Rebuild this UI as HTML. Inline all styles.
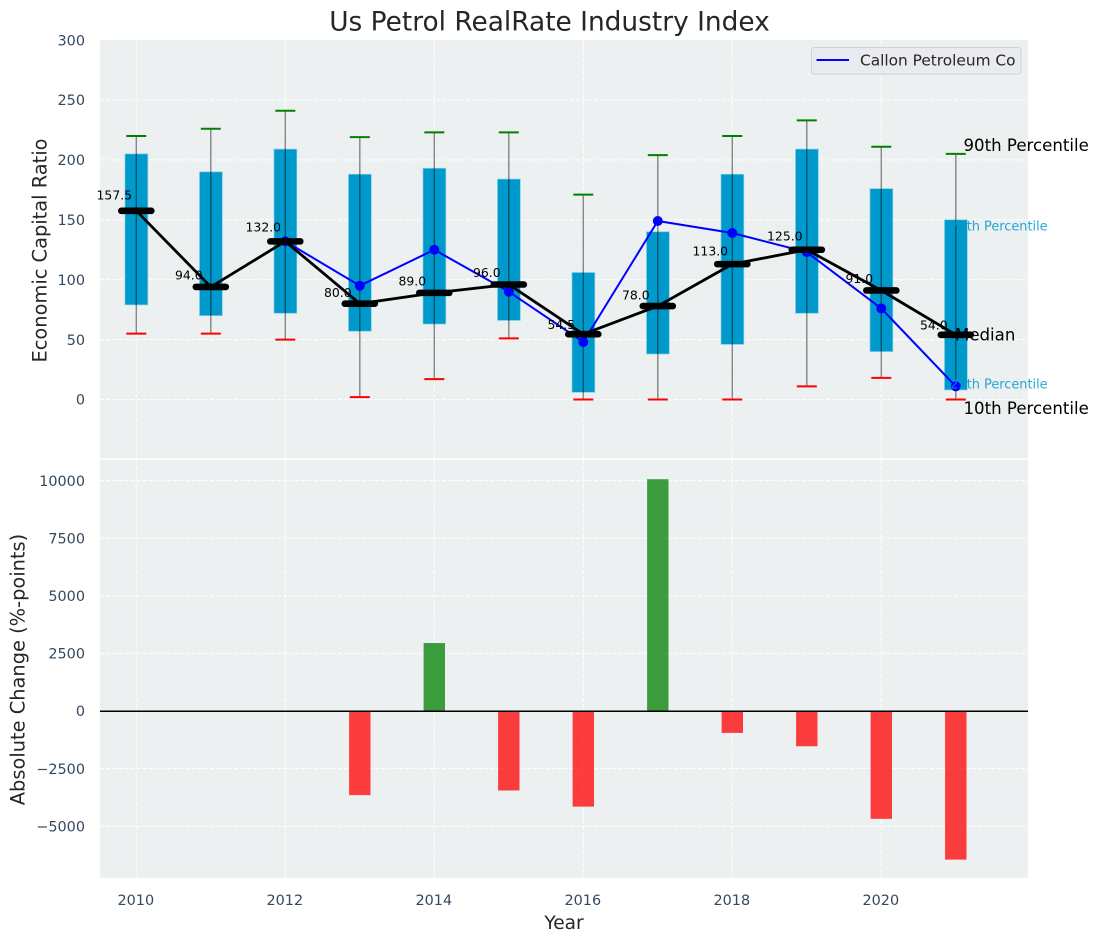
<!DOCTYPE html>
<html>
<head>
<meta charset="utf-8">
<title>Us Petrol RealRate Industry Index</title>
<style>
html,body{margin:0;padding:0;background:#fff;}
svg{display:block;font-family:"DejaVu Sans","Liberation Sans",sans-serif;}
</style>
</head>
<body>
<svg id="chart" xmlns="http://www.w3.org/2000/svg" width="1098" height="942" viewBox="0 0 1098 942"></svg>
<script>
const years = [2010,2011,2012,2013,2014,2015,2016,2017,2018,2019,2020,2021];
const p90 = [220,226,241,219,223,223,171,204,220,233,211,205];
const p75 = [205,190,209,188,193,184,106,140,188,209,176,150];
const medians = [157.5,94,132,80,89,96,54.5,78,113,125,91,54];
const p25 = [79,70,72,57,63,66,6,38,46,72,40,8];
const p10 = [55,55,50,2,17,51,0,0,0,11,18,0];
const callon = [null,null,132,95,125,90,48,149,139,123,76,11];
const changes = [null,null,null,-3650,2950,-3450,-4150,10060,-950,-1530,-4680,-6450];
const topTicks = [0,50,100,150,200,250,300];
const bottomTicks = [-5000,-2500,0,2500,5000,7500,10000];
const xTicks = [2010,2012,2014,2016,2018,2020];

const svg = document.getElementById('chart');
const NS = 'http://www.w3.org/2000/svg';
const plotLeft = 100, plotRight = 1028;
const topAxisTop = 40, topAxisBottom = 458.4, botAxisTop = 460, botAxisBottom = 878;

function x(year){ return 136.3 + (year - 2010) * 74.5; }
function yTop(v){ return 399.5 - v * 1.198; }
function yBot(v){ return 711 - v * 0.02304; }

function make(tag, attrs, txt){
  const el = document.createElementNS(NS, tag);
  for (const k in attrs) el.setAttribute(k, attrs[k]);
  if (txt !== undefined) el.textContent = txt;
  svg.appendChild(el);
  return el;
}
function fmtTick(v){ return v < 0 ? '\u2212' + Math.abs(v) : String(v); }

// axes backgrounds
let el = make('rect',{x:plotLeft,y:topAxisTop,width:plotRight-plotLeft,height:topAxisBottom-topAxisTop,fill:'#ecf0f1'});


el = make('rect',{x:plotLeft,y:botAxisTop,width:plotRight-plotLeft,height:botAxisBottom-botAxisTop,fill:'#ecf0f1'});



// grids
const gridStyle = {stroke:'#fff','stroke-width':1.1,'stroke-dasharray':'4.2 1.9',fill:'none',opacity:0.9};
topTicks.forEach(function(t){
  if (t === 300) return;
  const g = make('line',Object.assign({x1:plotLeft,x2:plotRight,y1:yTop(t),y2:yTop(t)},gridStyle));
  
  
});
bottomTicks.forEach(function(t){
  const g = make('line',Object.assign({x1:plotLeft,x2:plotRight,y1:yBot(t),y2:yBot(t)},gridStyle));
  
  
});
xTicks.forEach(function(t){
  let g = make('line',Object.assign({x1:x(t),x2:x(t),y1:topAxisTop,y2:topAxisBottom},gridStyle));
  
  
  g = make('line',Object.assign({x1:x(t),x2:x(t),y1:botAxisTop,y2:botAxisBottom},gridStyle));
  
  
});

// tick labels
topTicks.forEach(function(t){
  const l = make('text',{x:85,y:yTop(t)+5.2,'text-anchor':'end','font-size':14.4,fill:'#34495e'},fmtTick(t));
  
  
});
bottomTicks.forEach(function(t){
  const l = make('text',{x:85,y:yBot(t)+5.2,'text-anchor':'end','font-size':14.4,fill:'#34495e'},fmtTick(t));
  
  
});
xTicks.forEach(function(t){
  const l = make('text',{x:x(t)-0.5,y:904.8,'text-anchor':'middle','font-size':14.4,fill:'#34495e'},String(t));
  
  
});

// titles
el = make('text',{x:549.5,y:30.5,'text-anchor':'middle','font-size':26.4,fill:'#262626'},'Us Petrol RealRate Industry Index');


el = make('text',{x:0,y:0,transform:'translate(46.7 250.5) rotate(-90)','text-anchor':'middle','font-size':19.4,fill:'#262626'},'Economic Capital Ratio');


el = make('text',{x:0,y:0,transform:'translate(24.5 669.5) rotate(-90)','text-anchor':'middle','font-size':19.4,fill:'#262626'},'Absolute Change (%-points)');


el = make('text',{x:564,y:929,'text-anchor':'middle','font-size':18.6,fill:'#262626'},'Year');



// boxes
years.forEach(function(yr,i){
  const b = make('rect',{x:x(yr)-11.3,y:yTop(p75[i]),width:22.8,height:yTop(p25[i])-yTop(p75[i]),fill:'#0099cc',stroke:'#7fcce5','stroke-width':0.7});
  
  
});
// whiskers and caps
years.forEach(function(yr,i){
  let w = make('line',{x1:x(yr),x2:x(yr),y1:yTop(p90[i]),y2:yTop(p10[i]),stroke:'#000','stroke-opacity':0.45,'stroke-width':1.4});
  
  
  let c = make('line',{x1:x(yr)-10,x2:x(yr)+10,y1:yTop(p90[i]),y2:yTop(p90[i]),stroke:'#008000','stroke-width':2});
  
  
  c = make('line',{x1:x(yr)-10,x2:x(yr)+10,y1:yTop(p10[i]),y2:yTop(p10[i]),stroke:'#ff0000','stroke-width':2});
  
  
});

// callon line
let callonPts = [];
years.forEach(function(yr,i){ if (callon[i] !== null) callonPts.push(x(yr)+','+yTop(callon[i])); });
el = make('polyline',{points:callonPts.join(' '),fill:'none',stroke:'#0000ff','stroke-width':2});


years.forEach(function(yr,i){
  if (callon[i] === null) return;
  const d = make('circle',{cx:x(yr),cy:yTop(callon[i]),r:5,fill:'#0000ff'});
  
  
});

// percentile text in the box colour, so it disappears over the last box
el = make('text',{x:950.3,y:230.3,'font-size':12.9,fill:'#0099cc',opacity:0.85},'75th Percentile');


el = make('text',{x:950.3,y:388.4,'font-size':12.9,fill:'#0099cc',opacity:0.85},'25th Percentile');



// median line and markers
el = make('polyline',{points:years.map(function(yr,i){return x(yr)+','+yTop(medians[i]);}).join(' '),fill:'none',stroke:'#000','stroke-width':2.8});


years.forEach(function(yr,i){
  const m = make('line',{x1:x(yr)-15,x2:x(yr)+15,y1:yTop(medians[i]),y2:yTop(medians[i]),stroke:'#000','stroke-width':6.6,'stroke-linecap':'round'});
  
  
});
years.forEach(function(yr,i){
  const v = medians[i];
  const t = make('text',{x:x(yr)-22,y:yTop(v*1.05+5.3)+4.5,'text-anchor':'middle','font-size':12.4,fill:'#000'},v.toFixed(1));
  
  
});

// black percentile labels
el = make('text',{x:963.5,y:151,'font-size':16.6,fill:'#000'},'90th Percentile');


el = make('text',{x:955,y:340.5,'font-size':16.6,fill:'#000'},'Median');


el = make('text',{x:963.5,y:414,'font-size':16.6,fill:'#000'},'10th Percentile');



// legend
el = make('rect',{x:811.5,y:47.5,width:209.5,height:26.5,rx:3,ry:3,fill:'#eaebf1',stroke:'#cfd2d6','stroke-width':1});


el = make('line',{x1:816.5,x2:849,y1:60,y2:60,stroke:'#0000ff','stroke-width':2});


el = make('text',{x:860,y:65.5,'font-size':15.35,fill:'#262626'},'Callon Petroleum Co');



// change bars
years.forEach(function(yr,i){
  const v = changes[i];
  if (v === null) return;
  const top = Math.min(yBot(v),yBot(0)), h = Math.abs(yBot(v)-yBot(0));
  const r = make('rect',{x:x(yr)-10.7,y:top,width:21.4,height:h,fill:v>=0?'#008000':'#ff0000','fill-opacity':0.75});
  
  
});
el = make('line',{x1:plotLeft,x2:plotRight,y1:yBot(0)+0.2,y2:yBot(0)+0.2,stroke:'#000','stroke-width':1.5});


</script>
</body>
</html>
